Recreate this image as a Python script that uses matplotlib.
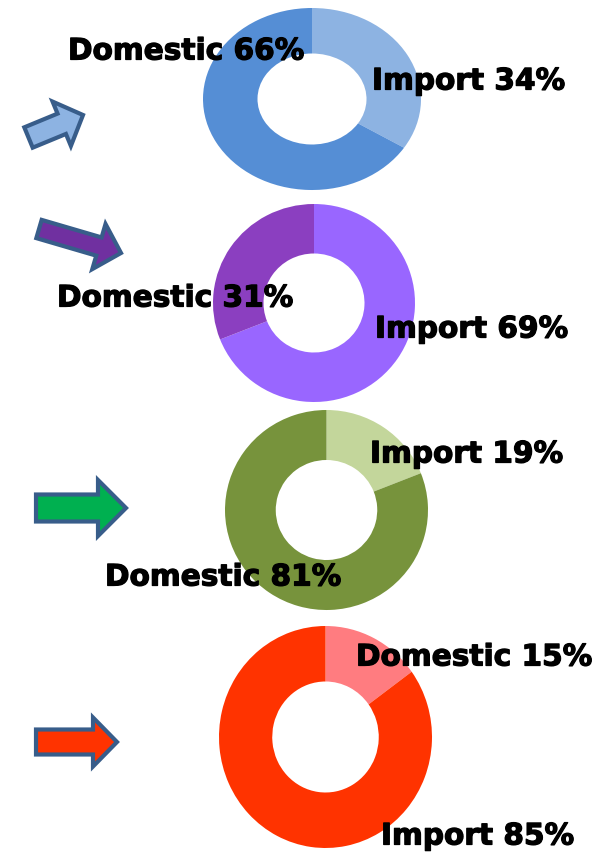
import matplotlib.pyplot as plt
import matplotlib.patheffects as pe
from matplotlib.patches import FancyArrow

# === Data ===
first_labels = ['Import', 'Import', 'Import', 'Domestic']
second_labels = ['Domestic', 'Domestic', 'Domestic', 'Import']
first_values = [34, 69, 19, 15]
second_values = [66, 31, 81, 85]

# === Styles ===
light_colors = ['#8DB3E2', '#9966FF', '#C3D69B', '#FF7C80']
dark_colors = ['#558ED5', '#8B3FC0', '#77933C', '#FF3300']
arrow_colors = ['#8DB3E2', '#7030A0', '#00B050', '#FF3300']
EDGE = '#385D8A'

W, H = 599, 857

# donut boxes in pixels: left, top, right, bottom
boxes = [(203, 8, 421, 190), (213, 204, 415, 402),
         (225, 410, 428, 610), (219, 626, 432, 848)]

# label anchors in pixels (left x, centre y) for first / second wedge
first_pos = [(372, 81), (375, 329), (370, 454), (356, 657)]
second_pos = [(68, 51), (57, 298), (105, 577), (381, 836)]

# arrows: tail x, tail y, dx, dy, width, head width, head length
arrows = [(28.5, 137.5, 54.5, -22.5, 22, 48, 23),
          (39, 229, 82, 24, 19, 47, 23),
          (36, 508, 90, 0, 27, 56, 28),
          (36, 742, 81, 0, 25, 49, 24)]

fig = plt.figure(figsize=(W / 100, H / 100), dpi=100)

for i in range(4):
    l, t, r, b = boxes[i]
    ax = fig.add_axes([l / W, 1 - b / H, (r - l) / W, (b - t) / H])
    ax.pie([first_values[i], second_values[i]],
           colors=[light_colors[i], dark_colors[i]],
           startangle=90, counterclock=False, radius=1,
           wedgeprops=dict(width=0.5, edgecolor='none'))
    ax.set_aspect('auto')
    ax.set_xlim(-1, 1)
    ax.set_ylim(-1, 1)
    ax.axis('off')

# overlay for texts and arrows
ov = fig.add_axes([0, 0, 1, 1])
ov.set_xlim(0, W)
ov.set_ylim(H, 0)
ov.axis('off')

heavy = [pe.withStroke(linewidth=0.9, foreground='black')]

for i in range(4):
    x, y, dx, dy, w, hw, hl = arrows[i]
    ov.add_patch(FancyArrow(x, y, dx, dy, width=w, head_width=hw,
                            head_length=hl, length_includes_head=True,
                            facecolor=arrow_colors[i], edgecolor=EDGE,
                            linewidth=3, joinstyle='miter'))
    ov.text(first_pos[i][0], first_pos[i][1],
            f"{first_labels[i]} {first_values[i]}%",
            fontsize=21.3, fontweight='bold', ha='left', va='center',
            path_effects=heavy)
    ov.text(second_pos[i][0], second_pos[i][1],
            f"{second_labels[i]} {second_values[i]}%",
            fontsize=21.3, fontweight='bold', ha='left', va='center',
            path_effects=heavy)

fig.savefig('out.png', dpi=100)
